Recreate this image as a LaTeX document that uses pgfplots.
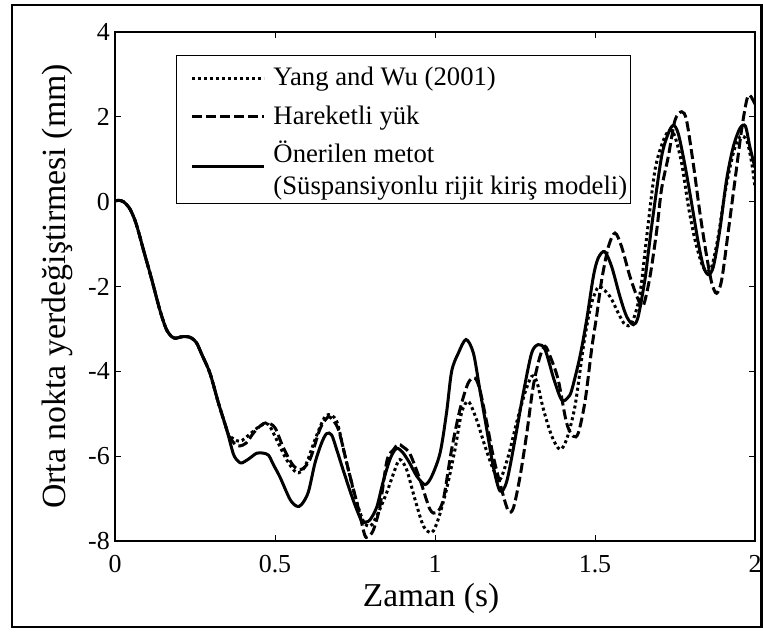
\documentclass[border=0pt]{standalone}
\usepackage{pgfplots}
\pgfplotsset{compat=1.18}
\usepackage{fontspec}
\setmainfont{Liberation Serif}
\pgfplotsset{
  imgone/.style={legend image code/.code={\path (0bp,0bp); \draw[##1, sharp plot, line width=3bp] (11bp,7.5bp) -- (83bp,7.5bp);}},
  imgtwo/.style={legend image code/.code={\path (0bp,0bp); \draw[##1, sharp plot, line width=3bp] (11bp,-4.4bp) -- (83bp,-4.4bp);}},
}
\begin{document}
\begin{tikzpicture}
\path[use as bounding box] (-115bp,-94bp) rectangle (648bp,541bp);
\draw[line width=2.7bp] (-103bp,-86bp) rectangle (646.5bp,536bp);
\begin{axis}[
  at={(0,0)}, anchor=south west,
  scale only axis, width=640bp, height=509bp,
  xmin=0, xmax=2, ymin=-8, ymax=4,
  xtick={0,0.5,1,1.5,2}, ytick={-8,-6,-4,-2,0,2,4},
  xticklabels={0,0.5,1,1.5,2}, yticklabels={-8,-6,-4,-2,0,2,4},
  tick label style={font=\fontsize{26}{31}\selectfont, inner sep=0pt},
  xticklabel style={yshift=-14bp},
  yticklabel style={xshift=-5bp},
  axis line style={line width=1.4bp},
  major tick length=6bp,
  tick style={line width=0.9bp, black},
  tick align=inside,
  every axis x label/.style={at={([xshift=-4bp,yshift=-57bp]axis description cs:0.5,0)}, anchor=center, font=\fontsize{33.5}{40}\selectfont},
  every axis y label/.style={at={([xshift=-58bp]axis description cs:0,0.5)}, rotate=90, anchor=center, font=\fontsize{34}{40}\selectfont},
  xlabel={Zaman (s)},
  ylabel={Orta nokta yerdeğiştirmesi (mm)},
  legend cell align=left,
  legend style={at={(rel axis cs:0.0953,0.9548)}, anchor=north west, draw=black, line width=1bp,
    inner xsep=3bp, inner ysep=8.3bp, row sep=0pt, column sep=8bp,
    font=\fontsize{26.8}{32}\selectfont,
    nodes={inner sep=0pt, text height=22bp, text depth=16.3bp, anchor=base west}},
]
\addplot[line width=3bp, line cap=butt, dash pattern=on 3bp off 3bp, smooth, imgone]
coordinates {
(0,0.02) (0.012,0.03) (0.026,0) (0.045,-0.15) (0.062,-0.43) (0.075,-0.75) (0.089,-1.14)
(0.115,-1.84) (0.14,-2.55) (0.16,-3.0) (0.177,-3.18) (0.19,-3.22) (0.205,-3.19) (0.225,-3.18)
(0.24,-3.22) (0.255,-3.33) (0.27,-3.58) (0.297,-4.05) (0.323,-4.74) (0.349,-5.37)
(0.359,-5.53) (0.39,-5.65) (0.42,-5.49) (0.453,-5.29) (0.479,-5.25) (0.505,-5.61) (0.536,-6.08)
(0.568,-6.39) (0.594,-6.24) (0.625,-5.61) (0.651,-5.14) (0.667,-5.02) (0.693,-5.18) (0.719,-6.0)
(0.75,-6.94) (0.776,-7.53) (0.797,-7.65) (0.818,-7.41) (0.849,-6.86) (0.875,-6.31) (0.89,-6.08)
(0.911,-6.31) (0.9375,-7.02) (0.964,-7.65) (0.99,-7.8) (1.01,-7.49) (1.036,-6.78) (1.0625,-5.84)
(1.083,-4.98) (1.104,-4.71) (1.13,-5.14) (1.156,-5.76) (1.182,-6.31) (1.203,-6.55) (1.229,-6.0)
(1.255,-5.21) (1.281,-4.51) (1.302,-4.12) (1.318,-4.24) (1.339,-4.9) (1.365,-5.53) (1.39,-5.84)
(1.411,-5.61) (1.4375,-4.82) (1.464,-3.4) (1.484,-2.55) (1.5,-2.16) (1.515,-2.0) (1.547,-2.24)
(1.573,-2.63) (1.594,-2.9) (1.615,-2.86) (1.64,-2.2) (1.662,-0.8) (1.6875,0.75) (1.714,1.45)
(1.734,1.69) (1.75,1.53) (1.771,0.9) (1.792,-0.12) (1.8125,-0.9) (1.833,-1.45) (1.849,-1.65)
(1.865,-1.53) (1.885,-0.82) (1.906,0.2) (1.932,1.14) (1.953,1.53) (1.974,1.45) (1.99,0.9) (2.0,0.35)
};
\addlegendentry{Yang and Wu (2001)}
\addplot[line width=3bp, line cap=butt, dash pattern=on 10bp off 4bp, smooth, imgone]
coordinates {
(0,0.02) (0.012,0.03) (0.026,0) (0.045,-0.15) (0.062,-0.43) (0.075,-0.75) (0.089,-1.14)
(0.115,-1.84) (0.14,-2.55) (0.16,-3.0) (0.177,-3.18) (0.19,-3.22) (0.205,-3.19) (0.225,-3.18)
(0.24,-3.22) (0.255,-3.33) (0.27,-3.58) (0.297,-4.05) (0.323,-4.74) (0.349,-5.37)
(0.354,-5.5) (0.375,-5.72) (0.39,-5.76) (0.41,-5.69) (0.433,-5.45) (0.455,-5.28) (0.474,-5.21)
(0.5,-5.33) (0.526,-5.8) (0.557,-6.22) (0.583,-6.31) (0.609,-6.08) (0.64,-5.37) (0.66,-5.12)
(0.672,-5.08) (0.698,-5.37) (0.729,-6.31) (0.76,-7.22) (0.78,-7.85) (0.79,-7.9) (0.807,-7.75)
(0.828,-7.18) (0.85,-6.1) (0.87,-5.85) (0.885,-5.72) (0.9,-5.78) (0.922,-5.95) (0.953,-6.55)
(0.984,-7.25) (1.005,-7.33) (1.026,-7.02) (1.052,-5.84) (1.078,-4.9) (1.104,-4.27) (1.125,-4.16)
(1.14,-4.43) (1.16,-5.14) (1.182,-6.0) (1.208,-6.78) (1.229,-7.29) (1.245,-7.22) (1.266,-6.47)
(1.287,-5.45) (1.307,-4.35) (1.328,-3.65) (1.344,-3.41) (1.36,-3.65) (1.385,-4.2) (1.411,-5.21)
(1.432,-5.53) (1.448,-5.45) (1.469,-4.7) (1.49,-3.45) (1.505,-2.7) (1.521,-1.84) (1.542,-1.06)
(1.5625,-0.74) (1.583,-1.06) (1.609,-1.76) (1.635,-2.31) (1.651,-2.45) (1.672,-1.76) (1.693,-0.67)
(1.708,0.3) (1.729,1.06) (1.75,1.92) (1.771,2.12) (1.786,1.92) (1.807,0.9) (1.828,-0.27)
(1.849,-1.29) (1.865,-1.92) (1.88,-2.16) (1.896,-1.84) (1.917,-0.67) (1.9375,0.51) (1.958,1.69)
(1.974,2.39) (1.984,2.51) (2.0,2.3)
};
\addlegendentry{Hareketli yük}
\addplot[line width=3bp, smooth, imgtwo]
coordinates {
(0,0.02) (0.012,0.03) (0.026,0) (0.045,-0.15) (0.062,-0.43) (0.075,-0.75) (0.089,-1.14)
(0.115,-1.84) (0.14,-2.55) (0.16,-3.0) (0.177,-3.18) (0.19,-3.22) (0.205,-3.19) (0.225,-3.18)
(0.24,-3.22) (0.255,-3.33) (0.27,-3.58) (0.297,-4.05) (0.323,-4.74) (0.349,-5.37)
(0.37,-5.95) (0.385,-6.12) (0.396,-6.16) (0.417,-6.07) (0.443,-5.93) (0.464,-5.93) (0.48,-5.98)
(0.495,-6.2) (0.516,-6.5) (0.547,-7.02) (0.568,-7.18) (0.583,-7.14) (0.604,-6.85) (0.625,-6.16)
(0.645,-5.7) (0.661,-5.47) (0.677,-5.5) (0.693,-5.85) (0.714,-6.35) (0.745,-7.05) (0.771,-7.53)
(0.785,-7.55) (0.797,-7.5) (0.818,-7.2) (0.838,-6.6) (0.859,-6.08) (0.875,-5.85) (0.885,-5.82)
(0.9,-5.92) (0.92,-6.15) (0.943,-6.47) (0.969,-6.67) (0.99,-6.47) (1.016,-5.92) (1.036,-4.98)
(1.052,-4.0) (1.073,-3.57) (1.097,-3.25) (1.12,-3.57) (1.14,-4.43) (1.16,-5.29) (1.182,-6.24)
(1.203,-6.82) (1.224,-6.6) (1.25,-5.61) (1.276,-4.51) (1.302,-3.57) (1.323,-3.37) (1.344,-3.49)
(1.37,-4.15) (1.39,-4.59) (1.401,-4.7) (1.415,-4.62) (1.427,-4.45) (1.453,-3.65) (1.474,-2.78)
(1.495,-1.76) (1.51,-1.33) (1.53,-1.18) (1.552,-1.53) (1.578,-2.24) (1.599,-2.71) (1.62,-2.9)
(1.635,-2.71) (1.656,-1.84) (1.665,-1.3) (1.682,-0.3) (1.708,1.06) (1.729,1.61) (1.745,1.8)
(1.76,1.61) (1.78,0.9) (1.802,-0.04) (1.823,-0.98) (1.839,-1.53) (1.854,-1.72) (1.87,-1.53)
(1.89,-0.67) (1.911,0.51) (1.932,1.29) (1.953,1.73) (1.97,1.78) (1.984,1.29) (2.0,0.8)
};
\addlegendentry[text depth=32.8bp]{\begin{tabular}[t]{@{}l@{}}Önerilen metot\\(Süspansiyonlu rijit kiriş modeli)\end{tabular}}
\end{axis}
\end{tikzpicture}
\end{document}
